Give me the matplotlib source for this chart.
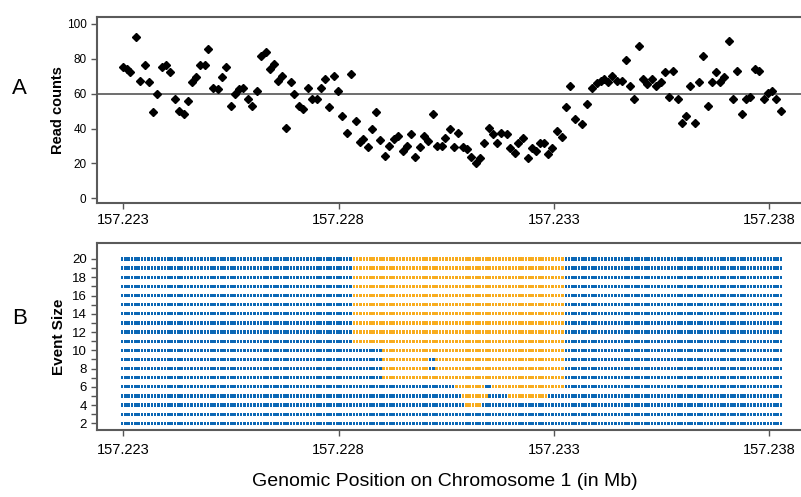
import matplotlib
matplotlib.use("Agg")
import matplotlib.pyplot as plt
import numpy as np

plt.rcParams['font.family'] = ['Liberation Sans', 'DejaVu Sans']

# read counts per window (position in Mb, count)
positions = [
    157.22300, 157.22308, 157.22316, 157.22329, 157.22338, 157.22350, 157.22360, 157.22370,
    157.22379, 157.22391, 157.22400, 157.22409, 157.22419, 157.22430, 157.22440, 157.22450,
    157.22460, 157.22469, 157.22479, 157.22490, 157.22497, 157.22509, 157.22519, 157.22529,
    157.22539, 157.22550, 157.22559, 157.22569, 157.22579, 157.22590, 157.22600, 157.22610,
    157.22619, 157.22631, 157.22641, 157.22651, 157.22660, 157.22669, 157.22677, 157.22689,
    157.22697, 157.22709, 157.22718, 157.22729, 157.22738, 157.22749, 157.22759, 157.22769,
    157.22779, 157.22789, 157.22799, 157.22809, 157.22819, 157.22830, 157.22840, 157.22849,
    157.22858, 157.22868, 157.22878, 157.22888, 157.22897, 157.22909, 157.22918, 157.22928,
    157.22937, 157.22949, 157.22959, 157.22968, 157.22978, 157.22989, 157.22999, 157.23009,
    157.23019, 157.23029, 157.23040, 157.23047, 157.23058, 157.23069, 157.23078, 157.23088,
    157.23098, 157.23108, 157.23119, 157.23128, 157.23138, 157.23149, 157.23158, 157.23168,
    157.23177, 157.23191, 157.23198, 157.23209, 157.23218, 157.23228, 157.23239, 157.23249,
    157.23258, 157.23268, 157.23277, 157.23287, 157.23297, 157.23308, 157.23318, 157.23328,
    157.23337, 157.23349, 157.23366, 157.23377, 157.23388, 157.23400, 157.23409, 157.23417,
    157.23427, 157.23436, 157.23448, 157.23458, 157.23467, 157.23477, 157.23487, 157.23497,
    157.23508, 157.23517, 157.23528, 157.23537, 157.23548, 157.23558, 157.23568, 157.23577,
    157.23589, 157.23599, 157.23608, 157.23617, 157.23627, 157.23637, 157.23646, 157.23658,
    157.23667, 157.23677, 157.23686, 157.23696, 157.23708, 157.23717, 157.23726, 157.23737,
    157.23747, 157.23756, 157.23767, 157.23777, 157.23788, 157.23798, 157.23808, 157.23817,
    157.23827,
]
read_counts = [
    75.5, 74.2, 72.6, 92.4, 67.3, 76.7, 66.5, 49.7, 59.7, 75.3, 76.7, 72.3, 57.1, 50.3, 48.4, 55.6,
    66.5, 69.6, 76.7, 76.7, 85.8, 63.1, 62.5, 69.6, 75.3, 53.0, 59.7, 62.5, 63.1, 57.1, 53.0, 61.4,
    81.5, 84.1, 74.2, 77.2, 67.1, 70.2, 40.2, 66.5, 59.8, 53.0, 51.4, 63.1, 57.1, 57.1, 63.1, 68.3,
    52.6, 70.2, 61.4, 47.2, 37.3, 71.3, 44.3, 32.5, 34.0, 29.6, 39.6, 49.7, 33.3, 24.4, 30.2, 34.2,
    35.7, 27.3, 30.2, 36.7, 23.9, 29.6, 35.7, 32.7, 48.4, 30.2, 30.2, 34.4, 39.8, 29.6, 37.3, 29.6,
    28.3, 23.9, 20.1, 22.9, 31.6, 40.2, 36.7, 31.6, 37.6, 36.7, 28.7, 25.8, 31.6, 34.4, 22.9, 28.7,
    27.3, 31.6, 31.6, 25.4, 28.7, 38.8, 35.3, 52.6, 64.4, 45.5, 42.6, 54.3, 63.1, 66.0, 67.3, 68.6,
    66.5, 70.2, 67.3, 67.3, 79.3, 64.4, 56.8, 87.4, 68.3, 65.6, 68.6, 64.3, 66.7, 72.3, 58.3, 73.0,
    57.1, 43.4, 47.2, 64.3, 43.2, 66.7, 81.5, 53.1, 66.7, 72.3, 66.7, 69.6, 90.1, 56.8, 73.0, 48.5,
    56.8, 58.3, 74.4, 73.2, 57.1, 60.2, 61.4, 57.1, 50.3,
]
baseline = 60

# event scan: sizes and called events (row, start Mb, end Mb)
event_sizes = list(range(2, 21))
scan_start = 157.22297
scan_end = 157.23828
scan_count = 200
events = [(s, 157.22835, 157.23326) for s in range(11, 21)] + [
    (10, 157.22898, 157.23326),
    (9, 157.22898, 157.23010), (9, 157.23022, 157.23326),
    (8, 157.22898, 157.23010), (8, 157.23022, 157.23326),
    (7, 157.22898, 157.23326),
    (6, 157.23067, 157.23136), (6, 157.23156, 157.23326),
    (5, 157.23086, 157.23144), (5, 157.23194, 157.23284),
    (4, 157.23094, 157.23135),
]

xticks = [157.223, 157.228, 157.233, 157.238]
xlim = (157.222389, 157.238857)

BLUE = '#0b67b5'
ORANGE = '#f8ac1e'
SPINE = '#5a5a5a'
# narrow box marker, a bit taller than wide
CELL = [(-0.38, -0.5), (0.38, -0.5), (0.38, 0.5), (-0.38, 0.5), (-0.38, -0.5)]


def style_axes(ax):
    for side in ['top', 'bottom', 'left', 'right']:
        ax.spines[side].set_color(SPINE)
        ax.spines[side].set_linewidth(1.5)
    ax.tick_params(colors='#555555', labelcolor='black', direction='out', length=4, width=1)
    ax.set_xlim(*xlim)
    ax.set_xticks(xticks)
    ax.set_xticklabels([f'{t:.3f}' for t in xticks], fontsize=10.5)


fig = plt.figure(figsize=(8.01, 4.97), dpi=100)

ax1 = fig.add_axes([97 / 801, 1 - 203 / 497, 0.885, 186 / 497])
style_axes(ax1)
ax1.axhline(baseline, color='#555555', linewidth=1.2, zorder=1)
ax1.plot(positions, read_counts, linestyle='none', marker='D', markersize=4.2,
         color='black', zorder=2)
ax1.set_ylim(-2.7, 104.0)
ax1.set_yticks(range(0, 101, 20))
ax1.tick_params(axis='y', labelsize=8.5)
ax1.set_ylabel('Read counts', fontsize=10.5, fontweight='bold', labelpad=1)

ax2 = fig.add_axes([97 / 801, 1 - 430 / 497, 0.885, 187 / 497])
style_axes(ax2)
ax2.tick_params(axis='x', pad=5)
scan_x = np.linspace(scan_start, scan_end, scan_count)
for size in event_sizes:
    colors = []
    for x in scan_x:
        hit = any(r == size and a <= x <= b for r, a, b in events)
        colors.append(ORANGE if hit else BLUE)
    ax2.scatter(scan_x, [size] * len(scan_x), marker=CELL, s=5.6, c=colors,
                linewidths=0, antialiased=False, zorder=2)
ax2.set_ylim(1.27, 21.75)
ax2.set_yticks(event_sizes)
ax2.set_yticklabels([str(s) if s % 2 == 0 else '' for s in event_sizes], fontsize=9.5)
ax2.set_ylabel('Event Size', fontsize=11, fontweight='bold', labelpad=4)

fig.text(12 / 801, 1 - 88 / 497, 'A', fontsize=16, va='center', ha='left')
fig.text(12 / 801, 1 - 318 / 497, 'B', fontsize=16, va='center', ha='left')
fig.text(445 / 801, 1 - 482 / 497, 'Genomic Position on Chromosome 1 (in Mb)',
         fontsize=14, ha='center', va='center')

fig.savefig('out.png', dpi=100)
